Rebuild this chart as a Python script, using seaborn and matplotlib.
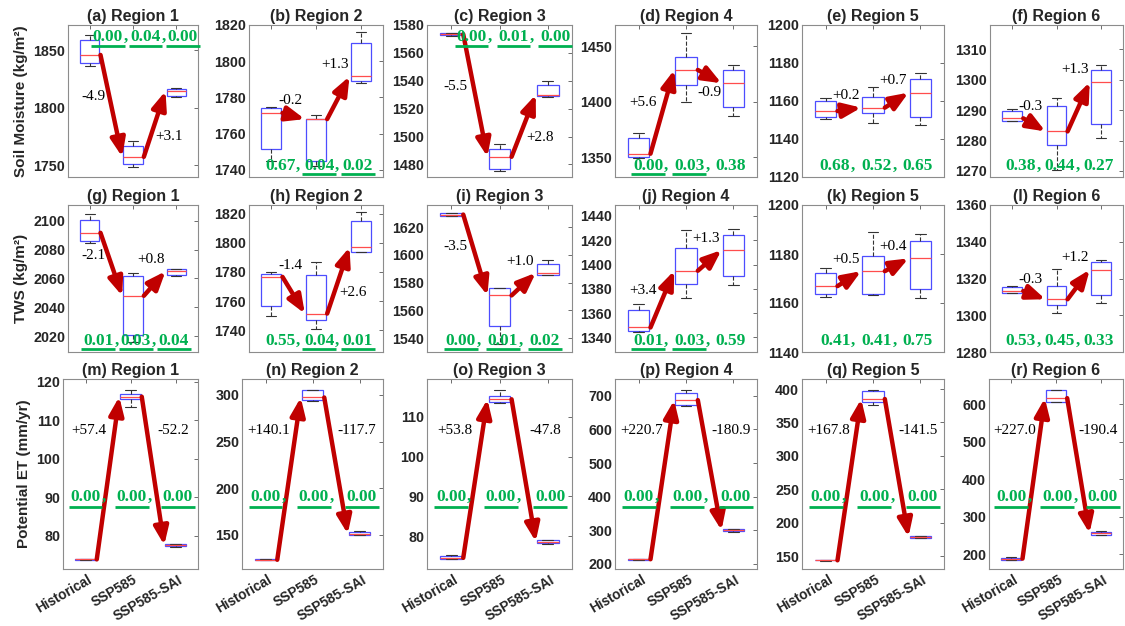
import numpy as np
import pandas as pd
import matplotlib
matplotlib.use('Agg')
import matplotlib.pyplot as plt
from matplotlib.ticker import MultipleLocator, FormatStrFormatter
from matplotlib.transforms import ScaledTranslation
import seaborn as sns

scenarios = ['Historical', 'SSP585', 'SSP585-SAI']
regions = ['Region 1', 'Region 2', 'Region 3', 'Region 4', 'Region 5', 'Region 6']
letters = 'abcdefghijklmnopqr'
ylabels = ['Soil Moisture (kg/m²)', 'TWS (kg/m²)', 'Potential ET (mm/yr)']

# box summaries per region: [whisker low, q1, median, q3, whisker high]
sm_hist = [[1836, 1839, 1846, 1859, 1863], [1744.8, 1751.7, 1771.4, 1773.9, 1774.5],
           [1572.2, 1572.6, 1573.4, 1574.2, 1574.6], [1349.5, 1350, 1353, 1367, 1371.6],
           [1150.7, 1151.8, 1154.7, 1160, 1161.8], [1286.3, 1286.5, 1287.3, 1289.7, 1290.5]]
sm_ssp = [[1749, 1751.5, 1757.5, 1767, 1771], [1742, 1744.8, 1768, 1768.3, 1770.2],
          [1475.5, 1476.4, 1485.5, 1490.8, 1494.4], [1399.4, 1415.3, 1428.5, 1440.5, 1462],
          [1148.5, 1153.8, 1156.5, 1162.3, 1167.3], [1270.3, 1278.6, 1283, 1291.3, 1294]]
sm_sai = [[1809.5, 1810.6, 1814.6, 1816.6, 1817.5], [1788, 1789, 1791.6, 1810.2, 1816.3],
          [1528.4, 1528.8, 1530, 1537, 1539.8], [1387.4, 1394.9, 1416.5, 1428.5, 1433.3],
          [1147.4, 1151.8, 1164.4, 1171.5, 1174.5], [1280.8, 1285.4, 1299.2, 1303.3, 1304.7]]

tws_hist = [[2084.4, 2085.9, 2091.7, 2100.9, 2104.6], [1750, 1756.6, 1776.6, 1778.9, 1780],
            [1627.8, 1628.1, 1629.1, 1630, 1630.3], [1344.4, 1345.5, 1348.2, 1362.5, 1367.5],
            [1162.6, 1163.8, 1166.9, 1172.1, 1174.2], [1312.1, 1312.3, 1313.2, 1315.4, 1316.1]]
tws_ssp = [[2016, 2020.5, 2048, 2061.8, 2064], [1740.5, 1747.2, 1751.4, 1778, 1787],
           [1535.7, 1548.4, 1570.8, 1575.8, 1575.8], [1372.1, 1383.9, 1394.9, 1413.6, 1428.5],
           [1163.1, 1163.8, 1173, 1179.3, 1188.8], [1301, 1305.4, 1308.7, 1316, 1325]]
tws_sai = [[2061.8, 2062.3, 2065, 2066.4, 2066.4], [1793.4, 1793.6, 1797, 1815, 1821.4],
           [1585.4, 1585.6, 1587.1, 1593.7, 1596.2], [1383, 1390.5, 1411.9, 1424.3, 1429],
           [1161.9, 1165.9, 1178.2, 1185.4, 1188], [1306.4, 1310.8, 1324.8, 1329, 1330.1]]

pet_hist = [[73.6, 73.7, 73.8, 73.9, 74.0], [122.8, 123.1, 123.4, 123.7, 124.0],
            [74.2, 74.3, 74.5, 75.0, 75.1], [212.5, 213, 214, 214.8, 215.3],
            [143.5, 143.8, 144, 144.2, 144.5], [184, 184.5, 187.6, 190.3, 190.8]]
pet_ssp = [[113.4, 115.4, 116.1, 116.7, 117.8], [293.6, 294.3, 297.2, 305, 305.3],
           [113.4, 113.8, 114.4, 115.3, 116.75], [670.5, 672.4, 687.2, 709.8, 716.7],
           [375.7, 380.7, 385.1, 396.5, 399], [605, 606.2, 615.9, 637, 638]]
pet_sai = [[77.0, 77.2, 77.5, 77.7, 77.8], [150.2, 150.4, 151.1, 153.5, 153.8],
           [78.0, 78.2, 78.6, 79.0, 79.1], [296.5, 297, 300, 303, 303.5],
           [177, 177.5, 179, 180.5, 181], [251.5, 252, 255.6, 260, 260.5]]

# percent change labels (Hist->SSP585, SSP585->SAI)
sm_change = [('-4.9', '+3.1'), ('-0.2', '+1.3'), ('-5.5', '+2.8'), ('+5.6', '-0.9'), ('+0.2', '+0.7'), ('-0.3', '+1.3')]
tws_change = [('-2.1', '+0.8'), ('-1.4', '+2.6'), ('-3.5', '+1.0'), ('+3.4', '+1.3'), ('+0.5', '+0.4'), ('-0.3', '+1.2')]
pet_change = [('+57.4', '-52.2'), ('+140.1', '-117.7'), ('+53.8', '-47.8'), ('+220.7', '-180.9'), ('+167.8', '-141.5'), ('+227.0', '-190.4')]

# p-values
sm_p = [(0.00, 0.04, 0.00), (0.67, 0.04, 0.02), (0.00, 0.01, 0.00), (0.00, 0.03, 0.38), (0.68, 0.52, 0.65), (0.38, 0.44, 0.27)]
tws_p = [(0.01, 0.03, 0.04), (0.55, 0.04, 0.01), (0.00, 0.01, 0.02), (0.01, 0.03, 0.59), (0.41, 0.41, 0.75), (0.53, 0.45, 0.33)]
pet_p = [(0.00, 0.00, 0.00)] * 6

# axis ranges and tick steps
sm_ylim = [(1740, 1872), (1736, 1820), (1471, 1580), (1332, 1469), (1120, 1200), (1268, 1318)]
tws_ylim = [(2009, 2111), (1725, 1826), (1530, 1636), (1328, 1449), (1140, 1200), (1280, 1360)]
pet_ylim = [(71.3, 120.7), (113.5, 317), (71.7, 119.5), (185, 750), (131, 415), (160, 667)]
sm_step = [50, 20, 20, 50, 20, 10]
tws_step = [20, 20, 20, 20, 20, 20]
pet_step = [10, 50, 10, 100, 50, 100]

rows = [
    (sm_hist, sm_ssp, sm_sai, sm_change, sm_p, sm_ylim, sm_step),
    (tws_hist, tws_ssp, tws_sai, tws_change, tws_p, tws_ylim, tws_step),
    (pet_hist, pet_ssp, pet_sai, pet_change, pet_p, pet_ylim, pet_step),
]

sns.set_style('white')
plt.rcParams['font.family'] = ['Liberation Sans', 'DejaVu Sans']
plt.rcParams['font.weight'] = 'bold'
plt.rcParams['axes.titleweight'] = 'bold'
plt.rcParams['axes.labelweight'] = 'bold'

BOX = '#4d4dff'
MED = '#ff4d4d'
ARROW = '#c00000'
GREEN = '#00b050'
SERIF = ['Liberation Serif', 'DejaVu Serif']

W, H = 1125, 626
row_top = [25, 205, 379]
row_bot = [177, 352, 569]
col_left = [[68, 249, 427, 615, 802, 990], [68, 249, 427, 615, 802, 990], [63, 242, 427, 615, 802, 989]]
col_right = [198, 383, 572, 757, 944, 1123]
p_at_top = ['a', 'c']

fig = plt.figure(figsize=(11.25, 6.26), dpi=100)
shift = ScaledTranslation(4 / 72, 0, fig.dpi_scale_trans)

for r, (hist, ssp, sai, change, pvals, ylims, steps) in enumerate(rows):
    for c in range(6):
        l, rt = col_left[r][c], col_right[c]
        ax = fig.add_axes([l / W, 1 - row_bot[r] / H, (rt - l) / W, (row_bot[r] - row_top[r]) / H])
        vals = [hist[c], ssp[c], sai[c]]
        df = pd.DataFrame({'scenario': np.repeat(scenarios, 5), 'value': np.concatenate(vals)})
        sns.boxplot(data=df, x='scenario', y='value', order=scenarios, ax=ax, whis=(0, 100),
                    width=0.45, color='white', linecolor=BOX, linewidth=0.9, showfliers=False,
                    medianprops={'color': MED, 'linewidth': 0.9},
                    whiskerprops={'color': '#333333', 'linestyle': '--', 'linewidth': 0.8},
                    capprops={'color': '#333333', 'linewidth': 0.8})
        ax.set_xlim(-0.5, 2.5)
        ylo, yhi = ylims[c]
        ax.set_ylim(ylo, yhi)
        span = yhi - ylo
        ax.yaxis.set_major_locator(MultipleLocator(steps[c]))
        ax.yaxis.set_major_formatter(FormatStrFormatter('%d'))
        ax.set_xlabel('')
        ax.set_ylabel(ylabels[r] if c == 0 else '', fontsize=11)
        letter = letters[r * 6 + c]
        ax.set_title(f'({letter}) {regions[c]}', fontsize=11.5, pad=3)
        ax.tick_params(direction='in', length=3, width=0.6, top=True, right=True,
                       color='#555555', labelcolor='#262626', labelsize=10.3, pad=2)
        ax.set_xticks([0, 1, 2])
        if r < 2:
            ax.set_xticklabels([])
        else:
            ax.set_xticklabels(scenarios, rotation=30, ha='right', va='center',
                               rotation_mode='anchor', fontsize=9.8, fontweight='bold')
            ax.tick_params(axis='x', pad=7)
            for lbl in ax.get_xticklabels():
                lbl.set_transform(lbl.get_transform() + shift)
        for s in ax.spines.values():
            s.set_color('#8c8c8c')
            s.set_linewidth(0.8)

        med = [np.median(v) for v in vals]
        for i in range(2):
            ax.annotate('', xy=(i + 0.75, med[i + 1]), xytext=(i + 0.25, med[i]),
                        arrowprops=dict(arrowstyle='-|>,head_width=0.22,head_length=0.55',
                                        color=ARROW, lw=3.2, mutation_scale=20,
                                        shrinkA=0, shrinkB=0), zorder=5)
            m0, m1 = med[i], med[i + 1]
            xm, ymid = i + 0.5, (m0 + m1) / 2
            if r == 2:
                x = xm - 0.43 if i == 0 else xm + 0.45
                y = ylo + 0.73 * span
            elif abs(m1 - m0) / span > 0.35:
                if i == 0:
                    x, y = xm - 0.41, ymid + 0.06 * span
                else:
                    x, y = xm + 0.33, ymid - 0.08 * span
            elif i == 1 and m1 < m0:
                x, y = xm, min(m0, m1) - 0.06 * span
            else:
                x, y = xm - 0.08, max(m0, m1) + 0.08 * span
            ax.text(x, y, change[c][i], ha='center', va='center', fontsize=11,
                    fontweight='normal', family=SERIF, color='black', zorder=6)

        # p-values, underlined when significant
        ppu = (rt - l) / 3.0
        half = 16 / ppu
        if r == 2:
            xs = [0.0, 1.03, 2.05]
            ty = 0.38
        elif letter in p_at_top:
            xs = [0.42, 1.29, 2.15]
            ty = 0.92
        else:
            xs = [0.2, 1.07, 1.94]
            ty = 0.075
        trans = ax.get_xaxis_transform()
        for k, p in enumerate(pvals[c]):
            ax.text(xs[k], ty, f'{p:.2f}', transform=trans, ha='center', va='center',
                    fontsize=12.5, fontweight='bold', family=SERIF, color=GREEN, zorder=6)
            if k < 2:
                ax.text(xs[k] + half, ty, ',', transform=trans, ha='left', va='center',
                        fontsize=12.5, fontweight='bold', family=SERIF, color=GREEN, zorder=6)
            if p < 0.05:
                ax.plot([xs[k] - half - 0.02, xs[k] + half + 0.02], [ty - 0.055, ty - 0.055],
                        transform=trans, color=GREEN, lw=2, solid_capstyle='butt',
                        clip_on=False, zorder=6)

plt.savefig('out.png', dpi=100)
